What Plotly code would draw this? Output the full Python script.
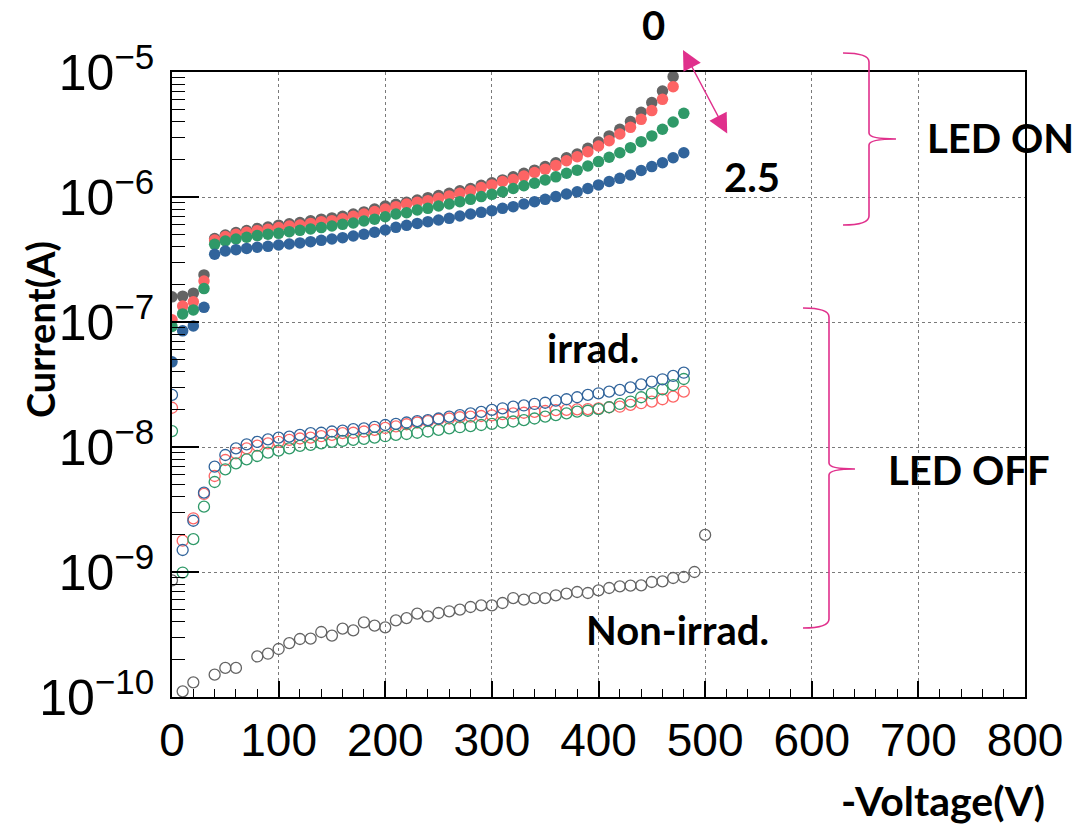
import plotly.graph_objects as go

# ---------------- data ----------------
V_on_short = list(range(0, 480, 10))   # 0..470 V
V_on_long = list(range(0, 490, 10))    # 0..480 V
V_off = list(range(0, 490, 10))        # 0..480 V
V_nonirr = [0, 10, 20, 40, 50, 60] + list(range(80, 510, 10))

on_gray = [1.59e-7, 1.61e-7, 1.70e-7, 2.38e-7, 4.65e-7, 4.97e-7, 5.2e-7, 5.4e-7, 5.6e-7, 5.75e-7,
           5.95e-7, 6.1e-7, 6.25e-7, 6.45e-7, 6.65e-7, 6.8e-7, 7.0e-7, 7.3e-7, 7.6e-7, 8.0e-7,
           8.48e-7, 8.73e-7, 9.06e-7, 9.46e-7, 9.88e-7, 1.026e-6, 1.07e-6, 1.12e-6, 1.17e-6, 1.24e-6,
           1.30e-6, 1.37e-6, 1.45e-6, 1.55e-6, 1.64e-6, 1.75e-6, 1.88e-6, 2.06e-6, 2.21e-6, 2.45e-6,
           2.75e-6, 3.08e-6, 3.48e-6, 4.01e-6, 4.76e-6, 5.69e-6, 7.05e-6, 9.18e-6]
on_red = [1.04e-7, 1.34e-7, 1.45e-7, 2.13e-7, 4.53e-7, 4.82e-7, 5.03e-7, 5.22e-7, 5.38e-7, 5.51e-7,
          5.69e-7, 5.86e-7, 5.97e-7, 6.15e-7, 6.35e-7, 6.47e-7, 6.7e-7, 7.0e-7, 7.3e-7, 7.65e-7,
          8.0e-7, 8.37e-7, 8.79e-7, 9.06e-7, 9.35e-7, 9.75e-7, 1.02e-6, 1.07e-6, 1.12e-6, 1.19e-6,
          1.25e-6, 1.33e-6, 1.38e-6, 1.47e-6, 1.57e-6, 1.67e-6, 1.79e-6, 1.95e-6, 2.10e-6, 2.30e-6,
          2.56e-6, 2.82e-6, 3.19e-6, 3.61e-6, 4.18e-6, 4.91e-6, 6.04e-6, 7.63e-6]
on_green = [9.2e-8, 1.16e-7, 1.25e-7, 1.85e-7, 4.18e-7, 4.45e-7, 4.61e-7, 4.76e-7, 4.91e-7, 5.03e-7,
            5.12e-7, 5.28e-7, 5.41e-7, 5.55e-7, 5.69e-7, 5.86e-7, 6.04e-7, 6.19e-7, 6.43e-7, 6.65e-7,
            6.95e-7, 7.31e-7, 7.49e-7, 7.87e-7, 8.11e-7, 8.48e-7, 8.79e-7, 9.18e-7, 9.58e-7, 1.007e-6,
            1.05e-6, 1.10e-6, 1.17e-6, 1.23e-6, 1.29e-6, 1.37e-6, 1.45e-6, 1.55e-6, 1.64e-6, 1.77e-6,
            1.92e-6, 2.08e-6, 2.26e-6, 2.48e-6, 2.77e-6, 3.08e-6, 3.48e-6, 3.98e-6, 4.67e-6]
on_blue = [4.8e-8, 8.5e-8, 9.3e-8, 1.31e-7, 3.48e-7, 3.70e-7, 3.79e-7, 3.88e-7, 3.96e-7, 4.03e-7,
           4.13e-7, 4.21e-7, 4.29e-7, 4.39e-7, 4.50e-7, 4.61e-7, 4.73e-7, 4.88e-7, 5.03e-7, 5.22e-7,
           5.44e-7, 5.72e-7, 5.93e-7, 6.15e-7, 6.35e-7, 6.55e-7, 6.75e-7, 7.05e-7, 7.31e-7, 7.54e-7,
           7.78e-7, 8.11e-7, 8.37e-7, 8.79e-7, 9.18e-7, 9.58e-7, 1.007e-6, 1.057e-6, 1.10e-6, 1.17e-6,
           1.25e-6, 1.33e-6, 1.41e-6, 1.50e-6, 1.63e-6, 1.75e-6, 1.88e-6, 2.06e-6, 2.26e-6]

off_red = [2.06e-8, 1.78e-9, 2.69e-9, 4.21e-9, 5.86e-9, 7.87e-9, 8.89e-9, 9.75e-9, 1.025e-8, 1.07e-8,
           1.10e-8, 1.14e-8, 1.17e-8, 1.19e-8, 1.22e-8, 1.25e-8, 1.29e-8, 1.30e-8, 1.33e-8, 1.37e-8,
           1.42e-8, 1.46e-8, 1.52e-8, 1.57e-8, 1.61e-8, 1.66e-8, 1.69e-8, 1.73e-8, 1.75e-8, 1.77e-8,
           1.79e-8, 1.83e-8, 1.86e-8, 1.88e-8, 1.91e-8, 1.94e-8, 1.97e-8, 1.98e-8, 2.00e-8, 2.01e-8,
           2.04e-8, 2.08e-8, 2.10e-8, 2.17e-8, 2.24e-8, 2.31e-8, 2.41e-8, 2.53e-8, 2.77e-8]
off_green = [1.34e-8, 9.9e-10, 1.83e-9, 3.33e-9, 5.25e-9, 6.63e-9, 7.40e-9, 7.97e-9, 8.47e-9, 9.01e-9,
             9.35e-9, 9.75e-9, 1.02e-8, 1.04e-8, 1.07e-8, 1.10e-8, 1.12e-8, 1.14e-8, 1.16e-8, 1.19e-8,
             1.22e-8, 1.25e-8, 1.27e-8, 1.30e-8, 1.33e-8, 1.37e-8, 1.41e-8, 1.44e-8, 1.47e-8, 1.50e-8,
             1.53e-8, 1.57e-8, 1.60e-8, 1.64e-8, 1.69e-8, 1.75e-8, 1.80e-8, 1.86e-8, 1.92e-8, 1.95e-8,
             2.01e-8, 2.08e-8, 2.21e-8, 2.31e-8, 2.50e-8, 2.69e-8, 2.89e-8, 3.13e-8, 3.50e-8]
off_blue = [2.61e-8, 1.50e-9, 2.57e-9, 4.31e-9, 6.96e-9, 8.63e-9, 9.75e-9, 1.05e-8, 1.10e-8, 1.15e-8,
            1.19e-8, 1.21e-8, 1.25e-8, 1.29e-8, 1.30e-8, 1.33e-8, 1.35e-8, 1.39e-8, 1.41e-8, 1.45e-8,
            1.50e-8, 1.53e-8, 1.57e-8, 1.61e-8, 1.64e-8, 1.69e-8, 1.75e-8, 1.80e-8, 1.86e-8, 1.91e-8,
            1.98e-8, 2.04e-8, 2.10e-8, 2.15e-8, 2.21e-8, 2.26e-8, 2.35e-8, 2.41e-8, 2.50e-8, 2.61e-8,
            2.69e-8, 2.77e-8, 2.86e-8, 3.00e-8, 3.17e-8, 3.33e-8, 3.48e-8, 3.70e-8, 3.93e-8]
nonirr = [8.58e-10, 1.11e-10, 1.31e-10, 1.51e-10, 1.71e-10, 1.71e-10, 2.11e-10, 2.22e-10, 2.42e-10,
          2.70e-10, 2.91e-10, 2.93e-10, 3.31e-10, 3.10e-10, 3.52e-10, 3.41e-10, 3.95e-10, 3.72e-10,
          3.61e-10, 4.10e-10, 4.28e-10, 4.64e-10, 4.42e-10, 4.70e-10, 4.85e-10, 5.00e-10, 5.25e-10,
          5.41e-10, 5.41e-10, 5.65e-10, 6.19e-10, 6.01e-10, 6.19e-10, 6.19e-10, 6.51e-10, 6.71e-10,
          6.92e-10, 6.79e-10, 7.13e-10, 7.45e-10, 7.68e-10, 7.78e-10, 7.82e-10, 8.32e-10, 8.42e-10,
          8.95e-10, 9.12e-10, 1.0e-9, 1.98e-9]

x_ticks = [0, 100, 200, 300, 400, 500, 600, 700, 800]

GRAY, RED, GREEN, BLUE = "#646464", "#fd6464", "#2f9968", "#31649b"
PINK = "#e0308c"

# ---------------- figure ----------------
fig = go.Figure()

def filled(x, y, c):
    fig.add_trace(go.Scatter(x=x, y=y, mode="markers",
                             marker=dict(symbol="circle", size=11.5, color=c, line=dict(width=0))))

def hollow(x, y, c):
    fig.add_trace(go.Scatter(x=x, y=y, mode="markers",
                             marker=dict(symbol="circle-open", size=11, color=c, line=dict(width=1.3, color=c))))

hollow(V_nonirr, nonirr, GRAY)
hollow(V_off, off_red, RED)
hollow(V_off, off_green, GREEN)
hollow(V_off, off_blue, BLUE)
filled(V_on_short, on_gray, GRAY)
filled(V_on_short, on_red, RED)
filled(V_on_long, on_green, GREEN)
filled(V_on_long, on_blue, BLUE)

L, R, T, B = 172, 1025, 72, 697
W, H = 1080, 826

def px(x):
    return (x - L) / (R - L)

def py(y):
    return (B - y) / (B - T)

fig.update_layout(
    width=W, height=H,
    margin=dict(l=L, r=W - R, t=T, b=H - B, autoexpand=False),
    paper_bgcolor="white", plot_bgcolor="white",
    showlegend=False,
)

fig.update_xaxes(
    range=[0, 800], tickvals=x_ticks, ticktext=[str(v) for v in x_ticks],
    ticks="inside", ticklen=16, tickwidth=1.6, tickcolor="black",
    minor=dict(dtick=20, ticks="inside", ticklen=8, tickwidth=1.4, tickcolor="black", showgrid=False),
    showgrid=True, gridcolor="#7a7a7a", griddash="dot", gridwidth=1.2,
    showline=True, linecolor="black", linewidth=1.6, mirror=True,
    tickfont=dict(family="Liberation Sans Narrow, Liberation Sans, Arial", size=46, color="black"),
    ticklabelstandoff=2, zeroline=False, automargin=False,
)
fig.update_yaxes(
    type="log", range=[-10, -5], dtick=1, exponentformat="power", showexponent="all",
    ticks="inside", ticklen=27, tickwidth=1.6, tickcolor="black",
    minor=dict(dtick="D1", ticks="inside", ticklen=13, tickwidth=1.4, tickcolor="black", showgrid=False),
    showgrid=True, gridcolor="#7a7a7a", griddash="dot", gridwidth=1.2,
    showline=True, linecolor="black", linewidth=1.6, mirror=True,
    tickfont=dict(family="Liberation Sans, Arial", size=40, color="black"),
    ticklabelstandoff=8, zeroline=False, automargin=False,
)

BOLD = "Lato, Open Sans, sans-serif"

def label(text, x, y, size=40, xanchor="center", angle=0):
    fig.add_annotation(text=f"<b>{text}</b>", x=px(x), y=py(y), xref="paper", yref="paper",
                       xanchor=xanchor, yanchor="middle", showarrow=False, textangle=angle,
                       font=dict(family=BOLD, size=size, color="black"))

label("Current(A)", 40, 330, size=38, angle=-90)
label("-Voltage(V)", 1047, 801, size=41, xanchor="right")
label("LED ON", 1000, 138)
label("LED OFF", 969, 470)
label("irrad.", 593, 348)
label("Non-irrad.", 677, 630)
label("0", 653, 25)
label("2.5", 752, 177)

# double-headed arrow
fig.add_annotation(x=px(683), y=py(50), xref="paper", yref="paper", ax=45, ay=85,
                   text="", showarrow=True, arrowhead=2, startarrowhead=2, arrowside="end+start",
                   arrowsize=2.6, startarrowsize=2.6, arrowwidth=1.5, arrowcolor=PINK)

def brace(x0, xv, xt, ytop, ymid, ybot):
    pts = [
        ("M", [(x0, ytop)]),
        ("Q", [(xv, ytop), (xv, ytop + 9)]),
        ("L", [(xv, ymid - 6)]),
        ("Q", [(xv, ymid), (xt, ymid)]),
        ("Q", [(xv, ymid), (xv, ymid + 6)]),
        ("L", [(xv, ybot - 9)]),
        ("Q", [(xv, ybot), (x0, ybot)]),
    ]
    s = ""
    for cmd, ps in pts:
        s += cmd + " " + " ".join(f"{px(a):.5f},{py(b):.5f}" for a, b in ps) + " "
    fig.add_shape(type="path", path=s.strip(), xref="paper", yref="paper",
                  line=dict(color=PINK, width=1.6))

brace(843, 869, 896, 53, 139, 225)
brace(803, 829, 855, 308, 469, 628)

fig.write_html("out.html", config={"displayModeBar": False},
               post_script="document.body.style.margin='0';document.body.style.padding='0';")
